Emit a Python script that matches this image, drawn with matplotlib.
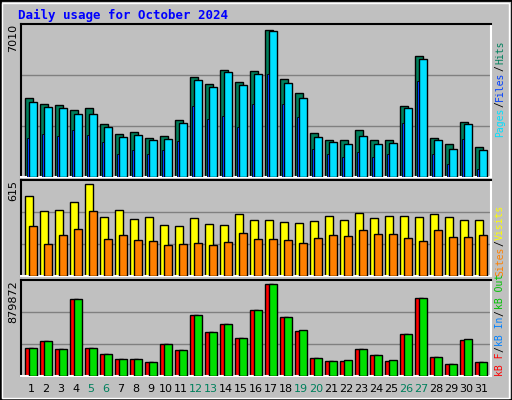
import matplotlib
matplotlib.use("Agg")
import matplotlib.pyplot as plt
from matplotlib.patches import Rectangle

days = list(range(1, 32))
hits = [3635,3360,3300,3085,3177,2444,1985,2077,1802,1894,2627,4597,4276,4918,4368,4872,6750,4505,3864,2031,1710,1710,2169,1710,1710,3268,5559,1802,1527,2535,1390]
files = [3452,3222,3176,2901,2901,2306,1848,1939,1710,1756,2489,4459,4138,4826,4230,4734,6704,4322,3634,1848,1619,1527,1894,1527,1573,3176,5421,1710,1298,2443,1252]
pages = [1802,1985,1894,2169,1939,1619,1069,1252,1069,1252,1664,3268,2672,2810,2306,3359,4734,3359,2764,1298,1069,931,1160,931,1069,2489,4413,1069,611,1756,382]
visits = [512,416,423,474,589,378,423,365,378,327,320,371,333,327,397,359,359,346,339,352,384,359,403,371,384,384,378,397,378,359,359]
sites = [320,205,263,301,416,237,263,231,224,199,205,211,199,218,275,237,237,231,211,243,263,256,295,269,269,243,224,295,250,250,263]
kb_f = [261,317,243,704,261,206,160,160,132,289,234,557,400,474,345,603,843,538,409,169,141,141,252,197,141,381,714,178,114,326,132]
kb_out = [261,317,252,704,261,206,160,160,132,289,234,557,400,474,345,603,843,538,418,169,141,151,252,197,151,381,714,178,114,335,132]
kb_f = [v*1000 for v in kb_f]
kb_out = [v*1000 for v in kb_out]
weekend = [5,6,12,13,19,20,26,27]
max_hits, max_visits, max_kb = 7010, 615, 879872
title = "Daily usage for October 2024"

W, H = 512, 400
fig = plt.figure(figsize=(W/100, H/100), dpi=100)
fig.patch.set_facecolor("#C0C0C0")
fig.add_artist(Rectangle((0, 0), 1, 1, transform=fig.transFigure, fill=False, ec="black", lw=2))
fig.add_artist(Rectangle((2/W, 2/H), 1-5/W, 1-5/H, transform=fig.transFigure, fill=False, ec="white", lw=1))

mono = "DejaVu Sans Mono"
fig.text(18/W, 1-15/H, title, color="#0000FF", fontsize=9, fontweight="bold", family=mono, va="center")

L, R = 20.7, 491
def mkax(top, bot):
    ax = fig.add_axes([L/W, 1-bot/H, (R-L)/W, (bot-top)/H])
    ax.set_facecolor("#C0C0C0")
    ax.set_xlim(0.313, 31.66)
    for s in ("left", "top"):
        ax.spines[s].set_color("black"); ax.spines[s].set_linewidth(1.5)
    for s in ("right", "bottom"):
        ax.spines[s].set_color("white"); ax.spines[s].set_linewidth(1.5)
    ax.set_xticks([]); ax.set_yticks([])
    return ax

bw = 0.49
kw = dict(edgecolor="black", linewidth=1)

ax1 = mkax(24, 177)
ax1.set_ylim(0, max_hits)
for g in (max_hits/3, 2*max_hits/3):
    ax1.axhline(g, color="#808080", lw=1, zorder=0)
ax1.bar([d-0.133 for d in days], hits, bw, color="#00805C", **kw, zorder=2)
ax1.bar([d+0.133 for d in days], files, bw, color="#00E0FF", **kw, zorder=3)
ax1.bar([d-0.2 for d in days], pages, 0.18, color="#0040FF", edgecolor="black", linewidth=0.6, zorder=4)

ax2 = mkax(180, 276)
ax2.set_ylim(0, max_visits)
for g in (max_visits/3, 2*max_visits/3):
    ax2.axhline(g, color="#808080", lw=1, zorder=0)
ax2.bar([d-0.133 for d in days], visits, bw, color="#FFFF00", **kw, zorder=2)
ax2.bar([d+0.133 for d in days], sites, bw, color="#FF8000", **kw, zorder=3)

ax3 = mkax(280, 376)
ax3.set_ylim(0, max_kb)
for g in (max_kb/3, 2*max_kb/3):
    ax3.axhline(g, color="#808080", lw=1, zorder=0)
ax3.bar([d-0.133 for d in days], kb_f, bw, color="#FF0000", **kw, zorder=2)
ax3.bar([d+0.133 for d in days], kb_out, bw, color="#00E000", **kw, zorder=3)

for d in days:
    ax3.text(d, -0.08, str(d), transform=ax3.get_xaxis_transform(), ha="center", va="top",
             fontsize=8, color="#00805C" if d in weekend else "black")

fig.text(13/W, 1-24/H, str(max_hits), rotation=90, fontsize=8, ha="center", va="top")
fig.text(13/W, 1-180/H, str(max_visits), rotation=90, fontsize=8, ha="center", va="top")
fig.text(13/W, 1-280/H, str(max_kb), rotation=90, fontsize=8, ha="center", va="top")

renderer = fig.canvas.get_renderer()
def vlabel(x, ybot, parts):
    y = ybot
    for txt, col in parts:
        t = fig.text(x/W, 1-y/H, txt, rotation=90, fontsize=7, family=mono, color=col,
                     ha="center", va="bottom")
        bb = t.get_window_extent(renderer)
        y -= bb.height + 0.5
vlabel(500, 137, [("Pages", "#00E0FF"), ("/", "black"), ("Files", "#0040FF"), ("/", "black"), ("Hits", "#00805C")])
vlabel(500, 276, [("Sites", "#FF8000"), ("/", "black"), ("Visits", "#FFFF00")])
vlabel(500, 376, [("kB F", "#FF0000"), ("/", "black"), ("kB In", "#0080FF"), ("/", "black"), ("kB Out", "#00C000")])

fig.savefig("out.png", dpi=100, facecolor=fig.get_facecolor())
